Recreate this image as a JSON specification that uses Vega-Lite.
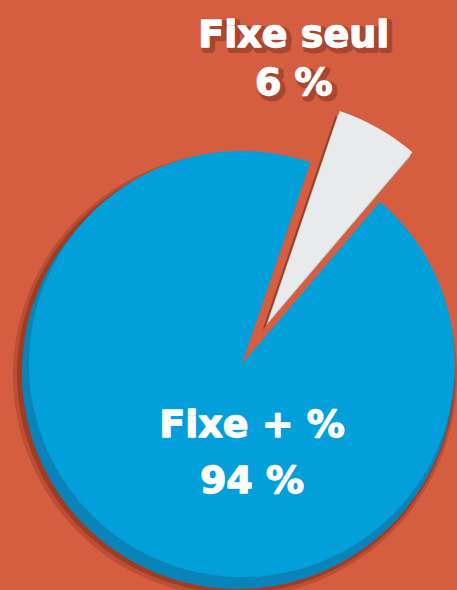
{
  "$schema": "https://vega.github.io/schema/vega-lite/v6.json",
  "width": 430,
  "height": 452,
  "padding": {"left": 27, "top": 138, "right": 0, "bottom": 0},
  "autosize": {"type": "none"},
  "background": "#D65E40",
  "config": {"view": {"stroke": null}},
  "data": {
    "values": [
      {"label": "Fixe + %", "pct": 94, "text": ["Fixe + %", "94 %"]},
      {"label": "Fixe seul", "pct": 6, "text": ["Fixe seul", "6 %"]}
    ]
  },
  "transform": [
    {"stack": "pct", "groupby": [], "sort": [{"field": "pct", "order": "descending"}], "as": ["s0", "s1"]}
  ],
  "layer": [
    {
      "transform": [{"filter": "datum.label === 'Fixe seul'"}],
      "mark": {"type": "arc", "radius": 228, "xOffset": 20, "yOffset": -33, "fill": "#5a1808", "opacity": 0.22},
      "encoding": {
        "theta": {"field": "s0", "type": "quantitative", "scale": {"domain": [0, 100], "range": [0.705, 6.988]}},
        "theta2": {"field": "s1"}
      }
    },
    {
      "transform": [{"filter": "datum.label === 'Fixe seul'"}],
      "mark": {"type": "arc", "radius": 225, "xOffset": 21, "yOffset": -35, "fill": "#5a1808", "opacity": 0.3},
      "encoding": {
        "theta": {"field": "s0", "type": "quantitative", "scale": {"domain": [0, 100], "range": [0.705, 6.988]}},
        "theta2": {"field": "s1"}
      }
    },
    {
      "transform": [{"filter": "datum.label === 'Fixe + %'"}],
      "mark": {"type": "arc", "radius": 222, "xOffset": -7, "yOffset": 11, "fill": "#5a1808", "opacity": 0.22},
      "encoding": {
        "theta": {"field": "s0", "type": "quantitative", "scale": {"domain": [0, 100], "range": [0.705, 6.988]}},
        "theta2": {"field": "s1"}
      }
    },
    {
      "transform": [{"filter": "datum.label === 'Fixe + %'"}],
      "mark": {"type": "arc", "radius": 219, "xOffset": -6, "yOffset": 10, "fill": "#5a1808", "opacity": 0.3},
      "encoding": {
        "theta": {"field": "s0", "type": "quantitative", "scale": {"domain": [0, 100], "range": [0.705, 6.988]}},
        "theta2": {"field": "s1"}
      }
    },
    {
      "transform": [{"filter": "datum.label === 'Fixe + %'"}],
      "mark": {"type": "arc", "radius": 216, "xOffset": -4, "yOffset": 9, "fill": "#0A84B8"},
      "encoding": {
        "theta": {"field": "s0", "type": "quantitative", "scale": {"domain": [0, 100], "range": [0.705, 6.988]}},
        "theta2": {"field": "s1"}
      }
    },
    {
      "transform": [{"filter": "datum.label === 'Fixe + %'"}],
      "mark": {"type": "arc", "radius": 213, "fill": "#02A0DB"},
      "encoding": {
        "theta": {"field": "s0", "type": "quantitative", "scale": {"domain": [0, 100], "range": [0.705, 6.988]}},
        "theta2": {"field": "s1"}
      }
    },
    {
      "transform": [{"filter": "datum.label === 'Fixe seul'"}],
      "mark": {"type": "arc", "radius": 223, "xOffset": 24, "yOffset": -38, "fill": "#BDBEC1"},
      "encoding": {
        "theta": {"field": "s0", "type": "quantitative", "scale": {"domain": [0, 100], "range": [0.705, 6.988]}},
        "theta2": {"field": "s1"}
      }
    },
    {
      "transform": [{"filter": "datum.label === 'Fixe seul'"}],
      "mark": {"type": "arc", "radius": 223, "xOffset": 26, "yOffset": -42, "fill": "#E9EAEC"},
      "encoding": {
        "theta": {"field": "s0", "type": "quantitative", "scale": {"domain": [0, 100], "range": [0.705, 6.988]}},
        "theta2": {"field": "s1"}
      }
    },
    {
      "transform": [{"filter": "datum.label === 'Fixe seul'"}],
      "mark": {"type": "text", "font": "DejaVu Sans", "fontWeight": "bold", "fontSize": 38, "align": "center", "baseline": "alphabetic", "lineHeight": 48, "dx": -45, "dy": -21, "fill": "#3a0c04", "stroke": "#3a0c04", "strokeWidth": 6, "strokeJoin": "round", "opacity": 0.28},
      "encoding": {
        "theta": {"field": "s0", "type": "quantitative", "stack": null, "scale": {"domain": [0, 100], "range": [0.705, 6.988]}},
        "radius": {"value": 310},
        "text": {"field": "text"}
      }
    },
    {
      "transform": [{"filter": "datum.label === 'Fixe seul'"}],
      "mark": {"type": "text", "font": "DejaVu Sans", "fontWeight": "bold", "fontSize": 38, "align": "center", "baseline": "alphabetic", "lineHeight": 48, "dx": -48, "dy": -24, "fill": "#FFFFFF", "stroke": "#FFFFFF", "strokeWidth": 1.3, "strokeJoin": "round"},
      "encoding": {
        "theta": {"field": "s0", "type": "quantitative", "stack": null, "scale": {"domain": [0, 100], "range": [0.705, 6.988]}},
        "radius": {"value": 310},
        "text": {"field": "text"}
      }
    },
    {
      "transform": [{"filter": "datum.label === 'Fixe + %'"}],
      "mark": {"type": "text", "font": "DejaVu Sans", "fontWeight": "bold", "fontSize": 38, "align": "center", "baseline": "alphabetic", "lineHeight": 56, "dx": 10, "dy": 73, "fill": "#FFFFFF", "stroke": "#FFFFFF", "strokeWidth": 1.3, "strokeJoin": "round"},
      "encoding": {
        "theta": {"field": "s0", "type": "quantitative", "stack": null, "scale": {"domain": [0, 100], "range": [0.705, 6.988]}},
        "radius": {"value": 0},
        "text": {"field": "text"}
      }
    }
  ]
}
